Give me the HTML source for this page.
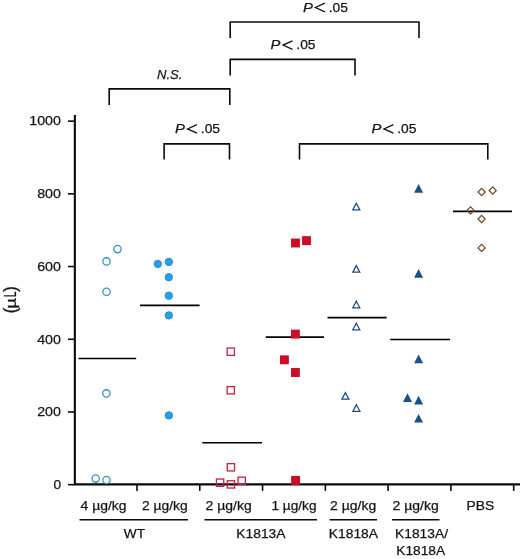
<!DOCTYPE html>
<html><head><meta charset="utf-8"><title>chart</title>
<style>
html,body{margin:0;padding:0;background:#fff;}
body{width:520px;height:559px;overflow:hidden;}
svg{display:block;will-change:transform;}
text{font-family:"Liberation Sans",sans-serif;fill:#131313;stroke:#131313;stroke-width:0.25px;}
</style></head><body>
<svg width="520" height="559" viewBox="0 0 520 559">
<rect width="520" height="559" fill="#fff"/>

<g stroke="#0a0a0a" fill="none" stroke-width="2.1">
<path d="M74.85 114.9 V484.4 H520" stroke-linejoin="miter"/>
</g>
<g stroke="#0a0a0a" fill="none" stroke-width="1.6">
<path d="M68 484.65 H74.85"/>
<path d="M68 411.95 H74.85"/>
<path d="M68 339.25 H74.85"/>
<path d="M68 266.55 H74.85"/>
<path d="M68 193.85 H74.85"/>
<path d="M68 121.15 H74.85"/>
<path d="M137.00 484.4 V490.9"/>
<path d="M199.78 484.4 V490.9"/>
<path d="M262.56 484.4 V490.9"/>
<path d="M325.34 484.4 V490.9"/>
<path d="M388.12 484.4 V490.9"/>
<path d="M450.90 484.4 V490.9"/>
<path d="M513.68 484.4 V490.9"/>
</g>
<g stroke="#000" fill="none" stroke-width="1.6">
<path d="M78.5 358.5 H136.2"/>
<path d="M140 305.4 H199.6"/>
<path d="M202.3 442.8 H262"/>
<path d="M265.8 337.1 H324"/>
<path d="M327.5 317.6 H386.6"/>
<path d="M390.2 339.5 H450"/>
<path d="M453 211.4 H512"/>
</g>
<circle cx="117.5" cy="249.1" r="3.65" fill="none" stroke="#3d93b5" stroke-width="1.3"/>
<circle cx="106.5" cy="261.4" r="3.65" fill="none" stroke="#3d93b5" stroke-width="1.3"/>
<circle cx="106.5" cy="291.8" r="3.65" fill="none" stroke="#3d93b5" stroke-width="1.3"/>
<circle cx="106.4" cy="393.4" r="3.65" fill="none" stroke="#3d93b5" stroke-width="1.3"/>
<circle cx="95.7" cy="478.6" r="3.65" fill="none" stroke="#3d93b5" stroke-width="1.3"/>
<circle cx="106.5" cy="480" r="3.65" fill="none" stroke="#3d93b5" stroke-width="1.3"/>
<circle cx="157.8" cy="263.9" r="3.7" fill="#22a0ee" stroke="#2c8dcc" stroke-width="1"/>
<circle cx="168.85" cy="261.9" r="3.7" fill="#22a0ee" stroke="#2c8dcc" stroke-width="1"/>
<circle cx="168.8" cy="277.2" r="3.7" fill="#22a0ee" stroke="#2c8dcc" stroke-width="1"/>
<circle cx="168.8" cy="295.7" r="3.7" fill="#22a0ee" stroke="#2c8dcc" stroke-width="1"/>
<circle cx="168.8" cy="315.4" r="3.7" fill="#22a0ee" stroke="#2c8dcc" stroke-width="1"/>
<circle cx="168.85" cy="415.4" r="3.7" fill="#22a0ee" stroke="#2c8dcc" stroke-width="1"/>
<rect x="227.15" y="348.05" width="7.3" height="7.3" fill="none" stroke="#c5203f" stroke-width="1.3"/>
<rect x="227.15" y="386.65" width="7.3" height="7.3" fill="none" stroke="#c5203f" stroke-width="1.3"/>
<rect x="227.25" y="463.65" width="7.3" height="7.3" fill="none" stroke="#c5203f" stroke-width="1.3"/>
<rect x="216.45" y="479.05" width="7.3" height="7.3" fill="none" stroke="#c5203f" stroke-width="1.3"/>
<rect x="227.25" y="480.75" width="7.3" height="7.3" fill="none" stroke="#c5203f" stroke-width="1.3"/>
<rect x="238.05" y="477.15" width="7.3" height="7.3" fill="none" stroke="#c5203f" stroke-width="1.3"/>
<rect x="291.05" y="238.55" width="8.9" height="8.9" fill="#cc0d28"/>
<rect x="302.05" y="236.15" width="8.9" height="8.9" fill="#cc0d28"/>
<rect x="290.95" y="329.65" width="8.9" height="8.9" fill="#cc0d28"/>
<rect x="279.95" y="355.35" width="8.9" height="8.9" fill="#cc0d28"/>
<rect x="290.95" y="368.05" width="8.9" height="8.9" fill="#cc0d28"/>
<rect x="291.15" y="475.95" width="8.9" height="8.9" fill="#cc0d28"/>
<polygon points="356.3,203.30 359.80,209.85 352.80,209.85" fill="none" stroke="#1f4a80" stroke-width="1.25"/>
<polygon points="356.3,265.60 359.80,272.15 352.80,272.15" fill="none" stroke="#1f4a80" stroke-width="1.25"/>
<polygon points="356.3,301.20 359.80,307.75 352.80,307.75" fill="none" stroke="#1f4a80" stroke-width="1.25"/>
<polygon points="356.3,323.20 359.80,329.75 352.80,329.75" fill="none" stroke="#1f4a80" stroke-width="1.25"/>
<polygon points="345.4,392.60 348.90,399.15 341.90,399.15" fill="none" stroke="#1f4a80" stroke-width="1.25"/>
<polygon points="356.4,404.70 359.90,411.25 352.90,411.25" fill="none" stroke="#1f4a80" stroke-width="1.25"/>
<polygon points="418.6,184.10 423.10,192.80 414.10,192.80" fill="#1b4f88"/>
<polygon points="418.6,269.00 423.10,277.70 414.10,277.70" fill="#1b4f88"/>
<polygon points="418.6,354.50 423.10,363.20 414.10,363.20" fill="#1b4f88"/>
<polygon points="407.5,393.20 412.00,401.90 403.00,401.90" fill="#1b4f88"/>
<polygon points="418.6,395.80 423.10,404.50 414.10,404.50" fill="#1b4f88"/>
<polygon points="418.6,413.90 423.10,422.60 414.10,422.60" fill="#1b4f88"/>
<polygon points="481.6,188.4 485.20000000000005,192 481.6,195.6 478.0,192" fill="none" stroke="#6e4520" stroke-width="1.2"/>
<polygon points="492.7,186.9 496.3,190.5 492.7,194.1 489.09999999999997,190.5" fill="none" stroke="#6e4520" stroke-width="1.2"/>
<polygon points="470.6,206.8 474.20000000000005,210.4 470.6,214.0 467.0,210.4" fill="none" stroke="#6e4520" stroke-width="1.2"/>
<polygon points="481.6,215.4 485.20000000000005,219 481.6,222.6 478.0,219" fill="none" stroke="#6e4520" stroke-width="1.2"/>
<polygon points="481.6,244.3 485.20000000000005,247.9 481.6,251.5 478.0,247.9" fill="none" stroke="#6e4520" stroke-width="1.2"/>
<text x="61.1" y="488.95" font-size="13.7" text-anchor="end">0</text>
<text x="60.9" y="416.25" font-size="13.7" text-anchor="end" textLength="23.7" lengthAdjust="spacingAndGlyphs">200</text>
<text x="60.9" y="343.55" font-size="13.7" text-anchor="end" textLength="23.7" lengthAdjust="spacingAndGlyphs">400</text>
<text x="60.9" y="270.85" font-size="13.7" text-anchor="end" textLength="23.7" lengthAdjust="spacingAndGlyphs">600</text>
<text x="60.9" y="198.15" font-size="13.7" text-anchor="end" textLength="23.7" lengthAdjust="spacingAndGlyphs">800</text>
<text x="60.9" y="125.45" font-size="13.7" text-anchor="end" textLength="31.6" lengthAdjust="spacingAndGlyphs">1000</text>
<g transform="translate(16.1 312.6) rotate(-90)">
<text x="-0.9" y="0" font-size="17.8">(</text>
<text x="4.2" y="0" font-size="14" textLength="10.4" lengthAdjust="spacingAndGlyphs">&#181;</text>
<text x="15.5" y="0" font-size="17.2" textLength="5.6" lengthAdjust="spacingAndGlyphs">L</text>
<text x="20.5" y="0" font-size="17.8">)</text>
</g>
<g stroke="#0a0a0a" fill="none" stroke-width="1.6" stroke-linejoin="miter">
<path d="M230.2 38.1 V22 H419 V38.1"/>
<path d="M230.2 75.6 V59.4 H355 V75.6"/>
<path d="M109.2 105 V88.9 H229.8 V105"/>
<path d="M164.1 159.5 V143.9 H229.5 V159.5"/>
<path d="M299.5 159.6 V143.9 H487.8 V159.6"/>
</g>
<text x="303" y="11.8" font-size="13.6" text-anchor="start" textLength="9.9" lengthAdjust="spacingAndGlyphs" font-style="italic">P</text>
<path d="M324.90 3.20 L315.40 7.50 L324.90 11.80" fill="none" stroke="#131313" stroke-width="1.3"/>
<text x="328.7" y="11.8" font-size="13.6" text-anchor="start" textLength="19.2" lengthAdjust="spacingAndGlyphs">.05</text>
<text x="270.6" y="49.4" font-size="13.6" text-anchor="start" textLength="9.9" lengthAdjust="spacingAndGlyphs" font-style="italic">P</text>
<path d="M292.50 40.80 L283.00 45.10 L292.50 49.40" fill="none" stroke="#131313" stroke-width="1.3"/>
<text x="296.3" y="49.4" font-size="13.6" text-anchor="start" textLength="19.2" lengthAdjust="spacingAndGlyphs">.05</text>
<text x="175.1" y="133.2" font-size="13.6" text-anchor="start" textLength="9.9" lengthAdjust="spacingAndGlyphs" font-style="italic">P</text>
<path d="M197.00 124.60 L187.50 128.90 L197.00 133.20" fill="none" stroke="#131313" stroke-width="1.3"/>
<text x="200.79999999999998" y="133.2" font-size="13.6" text-anchor="start" textLength="19.2" lengthAdjust="spacingAndGlyphs">.05</text>
<text x="371.5" y="133.2" font-size="13.6" text-anchor="start" textLength="9.9" lengthAdjust="spacingAndGlyphs" font-style="italic">P</text>
<path d="M393.40 124.60 L383.90 128.90 L393.40 133.20" fill="none" stroke="#131313" stroke-width="1.3"/>
<text x="397.2" y="133.2" font-size="13.6" text-anchor="start" textLength="19.2" lengthAdjust="spacingAndGlyphs">.05</text>
<text x="157.0" y="78.8" font-size="13.6" text-anchor="start" textLength="25.4" lengthAdjust="spacingAndGlyphs" font-style="italic">N.S.</text>
<g stroke="#0a0a0a" fill="none" stroke-width="1.4">
<path d="M79.5 519.8 H188"/>
<path d="M204.5 519.8 H317"/>
<path d="M329.5 519.8 H377"/>
<path d="M392 519.8 H439.5"/>
</g>
<text x="80.6" y="509.5" font-size="13.6" text-anchor="start" textLength="46" lengthAdjust="spacingAndGlyphs">4 &#181;g/kg</text>
<text x="142" y="509.5" font-size="13.6" text-anchor="start" textLength="45.6" lengthAdjust="spacingAndGlyphs">2 &#181;g/kg</text>
<text x="205.6" y="509.5" font-size="13.6" text-anchor="start" textLength="46.2" lengthAdjust="spacingAndGlyphs">2 &#181;g/kg</text>
<text x="271.4" y="509.5" font-size="13.6" text-anchor="start" textLength="45.2" lengthAdjust="spacingAndGlyphs">1 &#181;g/kg</text>
<text x="330" y="509.5" font-size="13.6" text-anchor="start" textLength="46.2" lengthAdjust="spacingAndGlyphs">2 &#181;g/kg</text>
<text x="392.6" y="509.5" font-size="13.6" text-anchor="start" textLength="46.2" lengthAdjust="spacingAndGlyphs">2 &#181;g/kg</text>
<text x="466.6" y="509.7" font-size="13.6" text-anchor="start" textLength="27.6" lengthAdjust="spacingAndGlyphs">PBS</text>
<text x="123.8" y="538" font-size="13.6" text-anchor="start" textLength="21.2" lengthAdjust="spacingAndGlyphs">WT</text>
<text x="236.3" y="538" font-size="13.6" text-anchor="start" textLength="49.2" lengthAdjust="spacingAndGlyphs">K1813A</text>
<text x="328.8" y="538" font-size="13.6" text-anchor="start" textLength="49.2" lengthAdjust="spacingAndGlyphs">K1818A</text>
<text x="395" y="538" font-size="13.6" text-anchor="start" textLength="53" lengthAdjust="spacingAndGlyphs">K1813A/</text>
<text x="396.3" y="555" font-size="13.6" text-anchor="start" textLength="48.8" lengthAdjust="spacingAndGlyphs">K1818A</text>
</svg></body></html>
